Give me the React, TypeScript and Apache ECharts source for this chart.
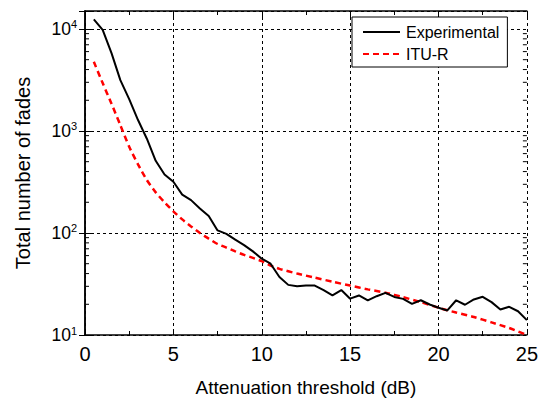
import React, { useEffect, useRef } from "react";
import * as echarts from "echarts";

const xThreshold = [0.5, 1, 1.5, 2, 2.5, 3, 3.5, 4, 4.5, 5, 5.5, 6, 6.5, 7, 7.5, 8, 8.5, 9, 9.5, 10, 10.5, 11, 11.5, 12, 12.5, 13, 13.5, 14, 14.5, 15, 15.5, 16, 16.5, 17, 17.5, 18, 18.5, 19, 19.5, 20, 20.5, 21, 21.5, 22, 22.5, 23, 23.5, 24, 24.5, 25];
const experimental = [12400, 9800, 5800, 3150, 2050, 1280, 840, 510, 375, 318, 238, 210, 174, 147, 106, 98, 86, 76, 66, 56, 50, 37, 31, 30, 30.5, 30.5, 27.5, 24.5, 27.6, 22.7, 24.4, 21.8, 24, 25.9, 23.6, 22.6, 20.2, 21.9, 19.9, 18.5, 17.4, 21.9, 19.8, 22.3, 23.7, 21, 17.8, 18.9, 17.1, 14];

const xItu = [0.5, 1, 1.5, 2, 2.5, 3, 3.5, 4, 4.5, 5, 5.5, 6, 6.5, 7, 7.5, 8, 8.5, 9, 9.5, 10, 10.5, 11, 12, 13, 14, 15, 16, 17, 18, 19, 20, 21, 22, 23, 24, 25];
const ituR = [4760, 2950, 1850, 1140, 700, 470, 330, 250, 200, 163, 136, 116, 100, 88, 78, 72, 66, 61, 57, 53, 48, 44.5, 40, 36.5, 33.3, 30.5, 28, 26, 23.5, 21, 18.5, 16.6, 15, 13.3, 11.7, 10];

const xMin = 0;
const xMax = 25;
const xInterval = 5;
const yMin = 10;
const yMax = 15000;
const yMinorTicks = [20, 30, 40, 50, 60, 70, 80, 90, 200, 300, 400, 500, 600, 700, 800, 900, 2000, 3000, 4000, 5000, 6000, 7000, 8000, 9000];

const FONT = "Liberation Sans, Arial, sans-serif";

export default function App() {
  const ref = useRef<HTMLDivElement>(null);
  useEffect(() => {
    if (!ref.current) return;
    const chart = echarts.init(ref.current, null, { renderer: "svg" });
    const gridLine = { show: true, lineStyle: { color: "#000", width: 1, type: [3, 3] as any } };
    const axisLine = { show: true, lineStyle: { color: "#000", width: 1.5 } };
    const option: any = {
      animation: false,
      backgroundColor: "#fff",
      textStyle: { fontFamily: FONT },
      grid: { left: 85, top: 11, width: 443, height: 325, containLabel: false },
      legend: {
        data: ["Experimental", "ITU-R"],
        orient: "vertical",
        left: 352,
        top: 17,
        itemWidth: 37,
        itemHeight: 14,
        itemGap: 6,
        padding: [7, 8, 5, 10],
        backgroundColor: "#fff",
        borderColor: "#000",
        borderWidth: 1,
        borderRadius: 0,
        itemStyle: { opacity: 0 },
        textStyle: { fontFamily: FONT, fontSize: 16, color: "#000", padding: [0, 0, 0, 1] },
      },
      xAxis: [
        {
          type: "value",
          min: xMin,
          max: xMax,
          interval: xInterval,
          position: "bottom",
          name: "Attenuation threshold (dB)",
          nameLocation: "middle",
          nameGap: 43,
          nameTextStyle: { fontFamily: FONT, fontSize: 19, color: "#000" },
          axisLine,
          axisTick: { show: true, inside: true, length: 6, lineStyle: { color: "#000", width: 1 } },
          minorTick: { show: true, splitNumber: 2, length: 4, lineStyle: { color: "#000", width: 1 } },
          axisLabel: { fontFamily: FONT, fontSize: 20, color: "#000", margin: 9 },
          splitLine: gridLine,
        },
        {
          type: "value",
          min: xMin,
          max: xMax,
          interval: xInterval,
          position: "top",
          axisLine,
          axisTick: { show: true, inside: true, length: 6, lineStyle: { color: "#000", width: 1 } },
          minorTick: { show: true, splitNumber: 2, length: 4, lineStyle: { color: "#000", width: 1 } },
          axisLabel: { show: false },
          splitLine: { show: false },
        },
      ],
      yAxis: [
        {
          type: "log",
          logBase: 10,
          min: yMin,
          max: yMax,
          position: "left",
          name: "Total number of fades",
          nameLocation: "middle",
          nameGap: 52,
          nameRotate: 90,
          nameTextStyle: { fontFamily: FONT, fontSize: 20, color: "#000" },
          axisLine,
          axisTick: { show: true, inside: true, length: 6, lineStyle: { color: "#000", width: 1 } },
          axisLabel: {
            margin: 8,
            formatter: (v: number) => {
              const e = Math.round(Math.log10(v));
              if (Math.abs(Math.pow(10, e) - v) > 1e-6 * v) return "";
              return `{b|10}{s|${e}}`;
            },
            rich: {
              b: { fontFamily: FONT, fontSize: 17.5, color: "#000" },
              s: { fontFamily: FONT, fontSize: 11, color: "#000", padding: [0, 0, 9, 0] },
            },
          },
          splitLine: gridLine,
        },
        {
          type: "log",
          logBase: 10,
          min: yMin,
          max: yMax,
          position: "right",
          axisLine,
          axisTick: { show: true, inside: true, length: 6, lineStyle: { color: "#000", width: 1 } },
          axisLabel: { show: false },
          splitLine: { show: false },
        },
      ],
      series: [
        {
          name: "Experimental",
          type: "line",
          xAxisIndex: 0,
          yAxisIndex: 0,
          data: xThreshold.map((x, i) => [x, experimental[i]]),
          symbol: "none",
          lineStyle: { color: "#000", width: 2 },
          itemStyle: { color: "#000", opacity: 0 },
          z: 3,
        },
        {
          name: "ITU-R",
          type: "line",
          xAxisIndex: 0,
          yAxisIndex: 0,
          data: xItu.map((x, i) => [x, ituR[i]]),
          symbol: "none",
          smooth: 0.2,
          lineStyle: { color: "#ff0000", width: 2.5, type: [6, 4] },
          itemStyle: { color: "#ff0000", opacity: 0 },
          z: 2,
        },
        {
          name: "minorY",
          type: "custom",
          xAxisIndex: 0,
          yAxisIndex: 0,
          silent: true,
          clip: false,
          data: yMinorTicks.map((v) => [xMin, v]),
          renderItem: (params: any, api: any) => {
            const v = api.value(1);
            const l = api.coord([xMin, v]);
            const r = api.coord([xMax, v]);
            return {
              type: "group",
              children: [
                { type: "line", shape: { x1: l[0], y1: l[1], x2: l[0] + 4, y2: l[1] }, style: { stroke: "#000", lineWidth: 1 } },
                { type: "line", shape: { x1: r[0] - 4, y1: r[1], x2: r[0], y2: r[1] }, style: { stroke: "#000", lineWidth: 1 } },
              ],
            };
          },
          z: 4,
        },
      ],
    };
    chart.setOption(option);
    return () => chart.dispose();
  }, []);
  return <div ref={ref} style={{ position: "fixed", left: 0, top: 0, width: 541, height: 402 }} />;
}
